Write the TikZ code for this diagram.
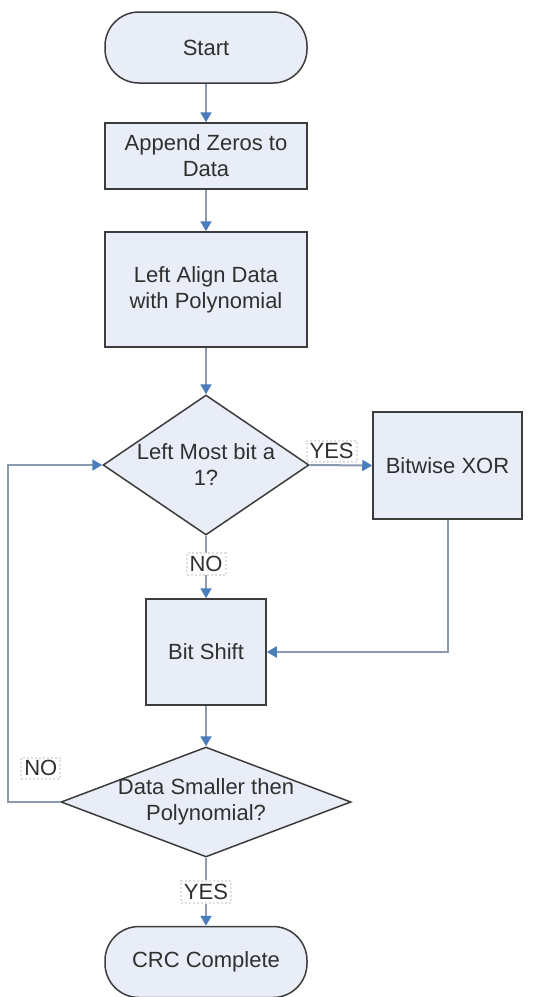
\documentclass[tikz,border=0pt]{standalone}
\usepackage{fontspec}
\setmainfont{Liberation Sans}
\usepackage{tikz}
\usetikzlibrary{shapes.geometric}
\usetikzlibrary{arrows.meta}
\usepackage{xcolor}
\definecolor{boxfill}{HTML}{E9EDF7}
\definecolor{boxline}{HTML}{3C3C3C}
\definecolor{flowline}{HTML}{8A9BB0}
\definecolor{tipblue}{HTML}{4A7EBB}
\definecolor{labeltext}{HTML}{303030}

\begin{document}
\begin{tikzpicture}[x=0.5pt, y=-0.5pt,
  every node/.style={font=\fontsize{11}{13}\selectfont, text=labeltext, align=center},
  terminal/.style={draw=boxline, fill=boxfill, line width=0.75pt, rounded corners=17pt,
    minimum width=101pt, minimum height=35.5pt, inner sep=0pt},
  process/.style={draw=boxline, fill=boxfill, line width=0.75pt, inner sep=0pt},
  decision/.style={diamond, draw=boxline, fill=boxfill, line width=0.75pt, inner sep=0pt},
  flow/.style={draw=flowline, line width=1pt, -{Triangle[length=5pt,width=5.5pt,color=tipblue]}},
  answer/.style={fill=white, draw=gray!25, densely dotted, inner sep=1.5pt}]

\useasboundingbox (0,0) rectangle (532,997);

% nodes of the chart
\node [terminal] (start) at (206,47.5) {Start};
\node [process, minimum width=101pt, minimum height=33pt] (append) at (206,156) {Append Zeros to\\ Data};
\node [process, minimum width=101pt, minimum height=57.5pt] (align) at (206,289.5) {Left Align Data\\ with Polynomial};
\node [decision, minimum width=103pt, minimum height=70pt,
  label={center:Left Most bit a\\ 1?}] (leftbit) at (206,465) {};
\node [process, minimum width=74.5pt, minimum height=53.5pt] (xor) at (447.5,465.5) {Bitwise XOR};
\node [process, minimum width=60pt, minimum height=53pt] (shift) at (206,652) {Bit Shift};
\node [decision, minimum width=145pt, minimum height=55pt,
  label={center:Data Smaller then\\ Polynomial?}] (smaller) at (206,802) {};
\node [terminal] (crc) at (206,962) {CRC Complete};

% straight down
\draw [flow] (start) -- (append);
\draw [flow] (append) -- (align);
\draw [flow] (align) -- (leftbit);
\draw [flow] (leftbit) -- node [answer, pos=0.45] {NO} (shift);
\draw [flow] (shift) -- (smaller);
\draw [flow] (smaller) -- node [answer, pos=0.5] {YES} (crc);

% the branch and the loop
\draw [flow] (leftbit.east) -- node [answer, above=1pt, pos=0.35] {YES} (xor.west);
\draw [flow] (xor.south) |- (shift.east);
\draw [flow] (smaller.west) -- ++(-52,0) |- node [answer, pos=0.05, right=6pt] {NO} (leftbit.west);

\end{tikzpicture}
\end{document}
